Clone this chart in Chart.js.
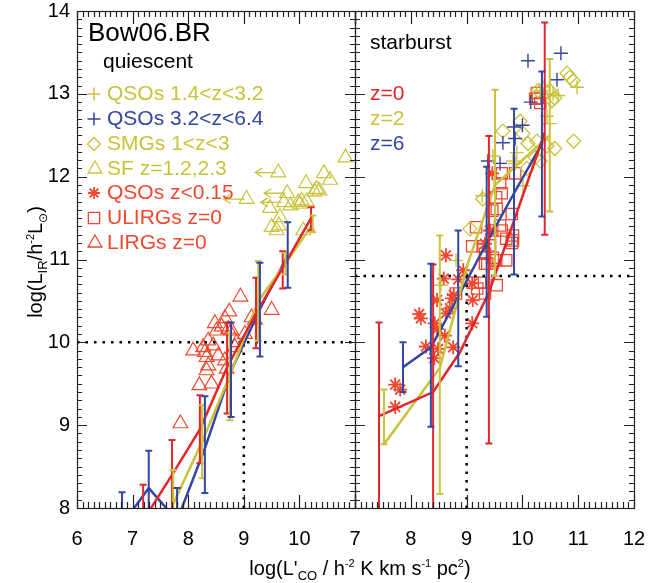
<!DOCTYPE html>
<html><head><meta charset="utf-8">
<script src="https://cdn.jsdelivr.net/npm/chart.js@4"></script>
<style>
html,body{margin:0;padding:0;background:#fff;}
#wrap{position:relative;width:665px;height:583px;}
canvas{position:absolute;left:0;top:0;}
</style>
</head><body>
<div id="wrap"><canvas id="cL" width="665" height="583"></canvas><canvas id="cR" width="665" height="583"></canvas></div>
<script>
const FONT = "'Liberation Sans', Arial, Helvetica, sans-serif";
const YEL = '#c9c23b', BLU = '#3446a4', RED = '#e2262b', ORG = '#f0492f';

// ---------- Left panel: quiescent ----------
const qRedX  = [7.19, 7.71, 8.21, 8.70, 9.22, 9.70, 10.21];
const qRedY  = [7.85, 8.40, 8.95, 9.70, 10.35, 10.90, 11.50];
const qRedLo = [7.40, 7.95, 8.54, 9.14, 9.93, 10.65, 11.35];
const qRedHi = [8.28, 8.82, 9.36, 10.24, 10.78, 11.10, 11.63];

const qYelX  = [7.73, 8.25, 8.75, 9.26, 9.75, 10.24];
const qYelY  = [8.05, 8.80, 9.60, 10.50, 10.95, 11.43];
const qYelLo = [7.60, 8.36, 9.06, 10.02, 10.82, 11.33];
const qYelHi = [8.46, 9.24, 10.11, 10.98, 11.08, 11.53];

const qBluX  = [6.81, 7.29, 7.80, 8.30, 8.77, 9.29, 9.79];
const qBluY  = [7.80, 8.24, 7.85, 8.72, 9.65, 10.40, 11.05];
const qBluLo = [7.40, 7.80, 7.45, 8.18, 9.10, 9.83, 10.66];
const qBluHi = [8.19, 8.69, 8.24, 9.35, 10.24, 10.96, 11.45];

const sfX   = [10.83, 9.62, 10.44, 10.55, 10.12, 10.31, 10.36, 10.27, 9.78, 9.05, 10.04, 9.72, 9.84, 9.98, 9.47, 10.13, 9.50, 9.59, 9.63, 10.07, 9.65, 10.01];
const sfY   = [12.23, 12.05, 12.04, 11.96, 11.92, 11.85, 11.83, 11.82, 11.80, 11.73, 11.71, 11.69, 11.65, 11.69, 11.62, 11.70, 11.39, 11.35, 11.41, 11.35, 11.51, 11.67];
const sfLim = [0, 1, 0, 0, 0, 0, 0, 0, 1, 1, 0, 1, 0, 0, 0, 0, 0, 0, 0, 0, 0, 0];

const lirgX = [8.94, 8.74, 9.50, 8.48, 8.60, 8.72, 8.78, 9.14, 9.20, 9.02, 8.36, 8.45, 8.09, 8.30, 8.33, 8.54, 8.36, 8.66, 8.84, 8.87, 8.20, 8.42, 7.86, 8.33, 8.66, 8.51, 8.27, 8.69];
const lirgY = [10.55, 10.37, 10.39, 10.23, 10.19, 10.16, 10.14, 10.30, 10.27, 10.10, 10.02, 9.96, 9.90, 9.88, 9.82, 9.84, 9.72, 9.78, 9.94, 10.00, 9.48, 9.50, 9.02, 9.66, 10.29, 10.14, 9.94, 9.68];

const qCutX = 9, qCutY = 10;

// ---------- Right panel: starburst ----------
const sRedX  = [7.43, 8.40, 8.88, 9.40, 10.40];
const sRedY  = [9.11, 9.40, 9.88, 10.60, 12.53];
const sRedLo = [7.00, 7.00, null, 8.78, 11.30];
const sRedHi = [10.24, 10.94, null, 12.49, 13.86];

const sYelX  = [7.52, 8.52, 9.02, 9.51, 10.49];
const sYelY  = [8.77, 9.69, 10.95, 11.90, 12.50];
const sYelLo = [8.77, 8.17, null, 10.80, 11.58];
const sYelHi = [9.43, 11.29, null, 13.05, 13.42];

const sBluX  = [7.86, 8.36, 8.85, 9.36, 9.85, 10.35];
const sBluY  = [9.70, 9.94, 10.55, 11.20, 11.80, 12.40];
const sBluLo = [9.40, 8.98, 9.71, 10.31, 10.82, 11.52];
const sBluHi = [10.00, 10.95, 11.35, 12.12, 12.82, 13.27];

const qsoLowX = [7.72, 7.81, 7.72, 8.15, 8.18, 8.27, 8.43, 8.47, 8.42, 8.49, 8.61, 8.76, 8.47, 8.63, 8.70, 8.74, 8.77, 9.11, 9.10, 8.63, 8.59, 8.94, 8.85, 9.10, 9.46, 9.42, 9.33];
const qsoLowY = [9.49, 9.43, 9.22, 10.34, 10.29, 9.95, 10.23, 10.16, 9.81, 9.92, 10.08, 9.94, 10.51, 10.35, 10.41, 10.53, 10.57, 10.51, 10.23, 11.05, 10.77, 10.87, 10.76, 10.71, 12.04, 11.35, 11.19];

const ulirgX = [9.63, 9.87, 9.60, 9.63, 9.53, 9.54, 9.46, 9.81, 9.17, 9.60, 9.46, 9.63, 9.83, 9.71, 9.83, 9.10, 9.29, 9.42, 9.33, 9.47, 9.71, 9.33, 9.54, 9.24, 9.19, 9.33, 9.37, 8.81, 9.11, 9.81, 9.53, 10.23, 10.32, 10.28, 10.26];
const ulirgY = [12.04, 12.04, 11.92, 11.80, 11.75, 11.61, 11.59, 11.55, 11.39, 11.41, 11.35, 11.35, 11.29, 11.25, 11.23, 11.16, 11.16, 11.17, 11.07, 11.02, 10.99, 10.95, 10.69, 10.72, 10.65, 10.59, 10.95, 10.59, 10.72, 11.20, 10.99, 12.94, 12.89, 12.95, 13.01];

const qsoMidX = [10.98, 10.64, 10.55, 10.32, 10.44, 10.49, 9.90, 9.47, 9.83, 9.28, 10.01, 9.87, 8.81, 8.54];
const qsoMidY = [13.08, 12.98, 13.00, 13.04, 12.73, 12.64, 12.29, 12.25, 12.19, 11.77, 11.89, 12.16, 10.99, 10.69];

const qsoHiX = [10.69, 10.10, 10.62, 10.15, 9.85, 10.00, 9.65, 9.87, 9.60, 9.38];
const qsoHiY = [13.49, 13.40, 13.17, 12.90, 12.60, 12.62, 12.41, 12.46, 12.16, 12.19];

const smgX = [10.80, 10.85, 10.91, 10.92, 10.28, 10.37, 10.49, 10.53, 10.58, 9.65, 9.96, 10.01, 10.26, 10.10, 10.32, 10.44, 10.58, 9.06, 9.29, 10.08, 10.23];
const smgY = [13.25, 13.20, 13.16, 12.43, 13.04, 13.06, 13.04, 12.92, 12.95, 12.55, 12.67, 12.52, 12.43, 12.40, 12.19, 12.37, 12.34, 11.37, 11.73, 12.10, 12.23];

const sCutX = 9, sCutY = 10.8;

// ---------- helpers ----------
const pts = (xs, ys) => xs.map((x, i) => ({x: x, y: ys[i]}));
function lineDS(xs, ys, color, w) {
  return {type: 'line', data: pts(xs, ys), borderColor: color, backgroundColor: color, borderWidth: w || 2.5,
          pointRadius: 0, showLine: true, fill: false, tension: 0, order: 0};
}
function dotDS(xs, ys) {
  return {type: 'line', data: pts(xs, ys), borderColor: '#000', borderWidth: 2.5, borderDash: [2.5, 6],
          borderCapStyle: 'butt', pointRadius: 0, showLine: true, fill: false, order: 0};
}
function markDS(xs, ys, style, color, r, bw) {
  return {type: 'scatter', data: pts(xs, ys), pointStyle: style, pointRadius: r, pointHoverRadius: r,
          borderColor: color, backgroundColor: 'rgba(0,0,0,0)', pointBorderColor: color,
          pointBackgroundColor: 'rgba(0,0,0,0)', pointBorderWidth: bw, showLine: false, order: 1};
}

function drawMark(ctx, style, x, y, r, color, lw) {
  ctx.save(); ctx.strokeStyle = color; ctx.lineWidth = lw; ctx.beginPath();
  if (style === 'cross') { ctx.moveTo(x - r, y); ctx.lineTo(x + r, y); ctx.moveTo(x, y - r); ctx.lineTo(x, y + r); }
  else if (style === 'rectRot') { ctx.moveTo(x - r, y); ctx.lineTo(x, y - r); ctx.lineTo(x + r, y); ctx.lineTo(x, y + r); ctx.closePath(); }
  else if (style === 'triangle') { ctx.moveTo(x, y - r); ctx.lineTo(x + r * 0.866, y + r * 0.5); ctx.lineTo(x - r * 0.866, y + r * 0.5); ctx.closePath(); }
  else if (style === 'rect') { const s = r * Math.SQRT1_2; ctx.rect(x - s, y - s, 2 * s, 2 * s); }
  else if (style === 'star') { for (let k = 0; k < 4; k++) { const a = k * Math.PI / 4; ctx.moveTo(x - r * Math.cos(a), y - r * Math.sin(a)); ctx.lineTo(x + r * Math.cos(a), y + r * Math.sin(a)); } }
  ctx.stroke(); ctx.restore();
}

function drawRich(ctx, pieces, cx, baseY) {
  let total = 0;
  pieces.forEach(p => { ctx.font = p.size + 'px ' + FONT; p.w = ctx.measureText(p.t).width; total += p.w; });
  let x = cx - total / 2;
  ctx.textAlign = 'left'; ctx.textBaseline = 'alphabetic';
  pieces.forEach(p => { ctx.font = p.size + 'px ' + FONT; ctx.fillText(p.t, x, baseY + (p.dy || 0)); x += p.w; });
}

function decor(cfg) {
  return {
    id: 'decor' + cfg.name,
    afterDatasetsDraw(chart) {
      const ctx = chart.ctx, a = chart.chartArea, xs = chart.scales.x, ys = chart.scales.y;
      ctx.save();
      ctx.beginPath(); ctx.rect(a.left, a.top, a.right - a.left, a.bottom - a.top); ctx.clip();
      // error bars
      cfg.errors.forEach(e => {
        ctx.strokeStyle = e.color; ctx.lineWidth = 2; ctx.lineCap = 'butt';
        e.x.forEach((xv, i) => {
          if (e.lo[i] == null) return;
          const px = xs.getPixelForValue(xv), p1 = ys.getPixelForValue(e.lo[i]), p2 = ys.getPixelForValue(e.hi[i]);
          ctx.beginPath();
          ctx.moveTo(px, p1); ctx.lineTo(px, p2);
          ctx.moveTo(px - 3.5, p1); ctx.lineTo(px + 3.5, p1);
          ctx.moveTo(px - 3.5, p2); ctx.lineTo(px + 3.5, p2);
          ctx.stroke();
        });
      });
      // upper-limit arrows
      if (cfg.arrows) {
        const ar = cfg.arrows;
        ctx.strokeStyle = ar.color; ctx.lineWidth = 1.3;
        ar.x.forEach((xv, i) => {
          if (!ar.flag[i]) return;
          const px = xs.getPixelForValue(xv), py = ys.getPixelForValue(ar.y[i]);
          ctx.beginPath();
          ctx.moveTo(px - 2, py); ctx.lineTo(px - 23, py);
          ctx.moveTo(px - 16, py - 4.5); ctx.lineTo(px - 23, py); ctx.lineTo(px - 16, py + 4.5);
          ctx.stroke();
        });
      }
      ctx.restore();
    },
    afterDraw(chart) {
      const ctx = chart.ctx, a = chart.chartArea, xs = chart.scales.x, ys = chart.scales.y;
      ctx.save();
      // frame
      ctx.strokeStyle = '#222'; ctx.lineWidth = 1.2;
      ctx.strokeRect(Math.round(a.left) + 0.5, Math.round(a.top) + 0.5, Math.round(a.right - a.left), Math.round(a.bottom - a.top));
      // inward ticks
      ctx.beginPath();
      for (let k = Math.round(xs.min * 10); k <= Math.round(xs.max * 10); k++) {
        const px = Math.round(xs.getPixelForValue(k / 10)) + 0.5;
        const len = (k % 10 === 0) ? 13 : 6;
        ctx.moveTo(px, a.bottom); ctx.lineTo(px, a.bottom - len);
        ctx.moveTo(px, a.top); ctx.lineTo(px, a.top + len);
      }
      for (let k = Math.round(ys.min * 10); k <= Math.round(ys.max * 10); k++) {
        const py = Math.round(ys.getPixelForValue(k / 10)) + 0.5;
        const len = (k % 10 === 0) ? 10 : 5;
        ctx.moveTo(a.left, py); ctx.lineTo(a.left + len, py);
        ctx.moveTo(a.right, py); ctx.lineTo(a.right - len, py);
      }
      ctx.stroke();
      // in-panel labels
      ctx.textAlign = 'left'; ctx.textBaseline = 'middle';
      cfg.texts.forEach(t => {
        ctx.font = t.size + 'px ' + FONT; ctx.fillStyle = t.color;
        ctx.fillText(t.t, t.x, t.y);
        if (t.mark) drawMark(ctx, t.mark, t.mx, t.y, t.mr, t.color, t.mlw);
      });
      // axis titles
      if (cfg.titles) {
        ctx.fillStyle = '#000';
        drawRich(ctx, [
          {t: "log(L'", size: 20}, {t: 'CO', size: 13, dy: 5}, {t: ' / h', size: 20},
          {t: '-2', size: 11, dy: -8}, {t: ' K km s', size: 20}, {t: '-1', size: 11, dy: -8},
          {t: ' pc', size: 20}, {t: '2', size: 11, dy: -8}, {t: ')', size: 20}
        ], 360, 575);
        ctx.save();
        ctx.translate(35, 262); ctx.rotate(-Math.PI / 2);
        drawRich(ctx, [
          {t: 'log(L', size: 20}, {t: 'IR', size: 13, dy: 5}, {t: '/h', size: 20},
          {t: '-2', size: 11, dy: -8}, {t: 'L', size: 20}, {t: '\u2299', size: 12, dy: 5}, {t: ')', size: 20}
        ], 0, 7);
        ctx.restore();
      }
      ctx.restore();
    }
  };
}

function makeChart(id, cfg) {
  return new Chart(document.getElementById(id), {
    type: 'scatter',
    data: {datasets: cfg.datasets},
    options: {
      responsive: false, animation: false, events: [],
      layout: {padding: {left: 0, right: cfg.padRight, top: 11, bottom: 0}},
      plugins: {legend: {display: false}, tooltip: {enabled: false}},
      scales: {
        x: {type: 'linear', min: cfg.xmin, max: cfg.xmax,
            grid: {display: false, drawTicks: false}, border: {display: false},
            ticks: {stepSize: 1, autoSkip: false, maxRotation: 0, padding: 19, color: '#000',
                    font: {family: FONT, size: 20}, callback: cfg.xcb},
            afterFit(s) { s.height = 75; s.paddingLeft = 0; s.paddingRight = 0; }},
        y: {type: 'linear', min: 8, max: 14,
            grid: {display: false, drawTicks: false}, border: {display: false},
            ticks: {display: cfg.yLabels, stepSize: 1, padding: 7, color: '#000', font: {family: FONT, size: 20}},
            afterFit(s) { s.width = cfg.yWidth; s.paddingTop = 0; s.paddingBottom = 0; }}
      }
    },
    plugins: [decor(cfg)]
  });
}

const legendRows = [94, 119, 144, 169, 193, 218, 243];

makeChart('cL', {
  name: 'L', xmin: 6, xmax: 11, padRight: 310, yWidth: 77, yLabels: true, titles: true,
  xcb: v => (v === 11 ? '' : String(v)),
  datasets: [
    lineDS(qRedX, qRedY, RED), lineDS(qYelX, qYelY, YEL), lineDS(qBluX, qBluY, BLU),
    dotDS([6, 11], [qCutY, qCutY]), dotDS([qCutX, qCutX], [8, qCutY]),
    markDS(sfX, sfY, 'triangle', YEL, 8.5, 1.2),
    markDS(lirgX, lirgY, 'triangle', ORG, 8.5, 1.2)
  ],
  errors: [
    {x: qRedX, lo: qRedLo, hi: qRedHi, color: RED},
    {x: qYelX, lo: qYelLo, hi: qYelHi, color: YEL},
    {x: qBluX, lo: qBluLo, hi: qBluHi, color: BLU}
  ],
  arrows: {x: sfX, y: sfY, flag: sfLim, color: YEL},
  texts: [
    {t: 'Bow06.BR', x: 88, y: 34, size: 26, color: '#000'},
    {t: 'quiescent', x: 103, y: 62, size: 21, color: '#000'},
    {t: 'QSOs 1.4<z<3.2', x: 107, y: legendRows[0], size: 21, color: YEL, mark: 'cross', mx: 94, mr: 6.5, mlw: 1.5},
    {t: 'QSOs 3.2<z<6.4', x: 107, y: legendRows[1], size: 21, color: BLU, mark: 'cross', mx: 94, mr: 6.5, mlw: 1.5},
    {t: 'SMGs 1<z<3', x: 107, y: legendRows[2], size: 21, color: YEL, mark: 'rectRot', mx: 94, mr: 6.5, mlw: 1.3},
    {t: 'SF z=1.2,2.3', x: 107, y: legendRows[3], size: 21, color: YEL, mark: 'triangle', mx: 95, mr: 8, mlw: 1.3},
    {t: 'QSOs z<0.15', x: 107, y: legendRows[4], size: 21, color: ORG, mark: 'star', mx: 94, mr: 6, mlw: 1.8},
    {t: 'ULIRGs z=0', x: 107, y: legendRows[5], size: 21, color: ORG, mark: 'rect', mx: 94, mr: 8, mlw: 1.3},
    {t: 'LIRGs z=0', x: 107, y: legendRows[6], size: 21, color: ORG, mark: 'triangle', mx: 95, mr: 8, mlw: 1.3}
  ]
});

makeChart('cR', {
  name: 'R', xmin: 7, xmax: 12, padRight: 31, yWidth: 355, yLabels: false, titles: false,
  xcb: v => String(v),
  datasets: [
    lineDS(sRedX, sRedY, RED), lineDS(sYelX, sYelY, YEL), lineDS(sBluX, sBluY, BLU),
    dotDS([7, 12], [sCutY, sCutY]), dotDS([sCutX, sCutX], [8, sCutY]),
    markDS(qsoMidX, qsoMidY, 'cross', YEL, 7, 1.4),
    markDS(qsoHiX, qsoHiY, 'cross', BLU, 7, 1.4),
    markDS(smgX, smgY, 'rectRot', YEL, 7, 1.3),
    markDS(ulirgX, ulirgY, 'rect', ORG, 8, 1.3),
    markDS(qsoLowX, qsoLowY, 'star', ORG, 7, 1.8)
  ],
  errors: [
    {x: sRedX, lo: sRedLo, hi: sRedHi, color: RED},
    {x: sYelX, lo: sYelLo, hi: sYelHi, color: YEL},
    {x: sBluX, lo: sBluLo, hi: sBluHi, color: BLU}
  ],
  texts: [
    {t: 'starburst', x: 370, y: 43, size: 21, color: '#000'},
    {t: 'z=0', x: 370, y: legendRows[0], size: 21, color: RED},
    {t: 'z=2', x: 370, y: legendRows[1], size: 21, color: YEL},
    {t: 'z=6', x: 370, y: legendRows[2], size: 21, color: BLU}
  ]
});
</script>
</body></html>
